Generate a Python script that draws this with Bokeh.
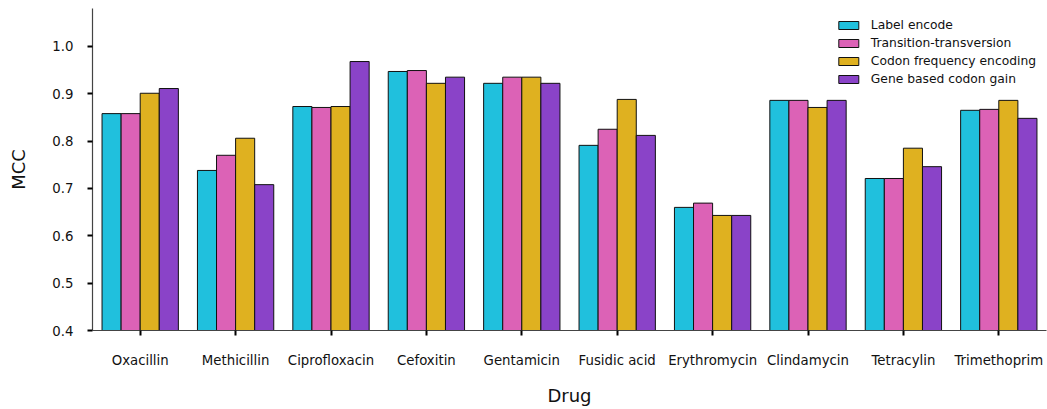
from bokeh.plotting import figure
from bokeh.models import FixedTicker, Legend, LegendItem, Range1d
from bokeh.embed import file_html
from bokeh.resources import INLINE

drugs = ["Oxacillin", "Methicillin", "Ciprofloxacin", "Cefoxitin", "Gentamicin",
         "Fusidic acid", "Erythromycin", "Clindamycin", "Tetracylin", "Trimethoprim"]
series_names = ["Label encode", "Transition-transversion",
                "Codon frequency encoding", "Gene based codon gain"]
label_encode = [0.858, 0.738, 0.873, 0.947, 0.922, 0.791, 0.660, 0.886, 0.721, 0.865]
transition_transversion = [0.858, 0.770, 0.871, 0.949, 0.935, 0.825, 0.669, 0.886, 0.721, 0.867]
codon_frequency = [0.901, 0.806, 0.873, 0.922, 0.935, 0.888, 0.643, 0.871, 0.785, 0.886]
gene_codon_gain = [0.911, 0.708, 0.968, 0.935, 0.922, 0.812, 0.643, 0.886, 0.746, 0.848]
y_ticks = [0.4, 0.5, 0.6, 0.7, 0.8, 0.9, 1.0]

series = [label_encode, transition_transversion, codon_frequency, gene_codon_gain]
colors = ["#20c0dd", "#dc62b6", "#dfb120", "#8a43c8"]
offsets = [-0.3, -0.1, 0.1, 0.3]
FONT = "DejaVu Sans"

p = figure(width=1047, height=409, output_backend="svg", toolbar_location=None,
           x_range=Range1d(-0.5, 9.5), y_range=Range1d(0.4, 1.08),
           min_border_left=92, min_border_right=1, min_border_top=8, min_border_bottom=79)
p.outline_line_color = None
p.xgrid.visible = False
p.ygrid.visible = False
p.background_fill_color = "white"

items = []
xs = list(range(len(drugs)))
for name, vals, col, off in zip(series_names, series, colors, offsets):
    r = p.vbar(x=[x + off for x in xs], top=vals, bottom=0, width=0.2,
               fill_color=col, line_color="#111111", line_width=1)
    items.append(LegendItem(label=name, renderers=[r]))

legend = Legend(items=items, location="top_right", border_line_color=None,
                background_fill_alpha=0, label_text_font=FONT, label_text_font_size="12.3px",
                label_text_color="#111111",
                glyph_width=25, glyph_height=10, label_standoff=10, spacing=4,
                padding=2, margin=10, label_height=14)
p.add_layout(legend, "center")

p.xaxis.ticker = FixedTicker(ticks=xs)
p.xaxis.major_label_overrides = {i: d for i, d in enumerate(drugs)}
p.yaxis.ticker = FixedTicker(ticks=y_ticks)
p.yaxis.major_label_overrides = {t: f"{t:.1f}" for t in y_ticks}

for ax in (p.xaxis[0], p.yaxis[0]):
    ax.axis_line_color = "#444444"
    ax.axis_line_width = 1.2
    ax.major_tick_line_color = "black"
    ax.major_tick_line_width = 2
    ax.major_tick_out = 5
    ax.major_tick_in = 0
    ax.minor_tick_line_color = None
    ax.major_label_text_font = FONT
    ax.major_label_text_font_size = "13.3px"
    ax.major_label_text_color = "#111111"
    ax.axis_label_text_font = FONT
    ax.axis_label_text_font_size = "18px"
    ax.axis_label_text_font_style = "normal"
    ax.axis_label_text_color = "#111111"

p.xaxis.major_label_standoff = 17
p.yaxis.major_label_standoff = 14
p.xaxis.axis_label = "Drug"
p.yaxis.axis_label = "MCC"
p.xaxis.axis_label_standoff = 14
p.yaxis.axis_label_standoff = 20

open("out.html", "w").write(file_html(p, INLINE))
